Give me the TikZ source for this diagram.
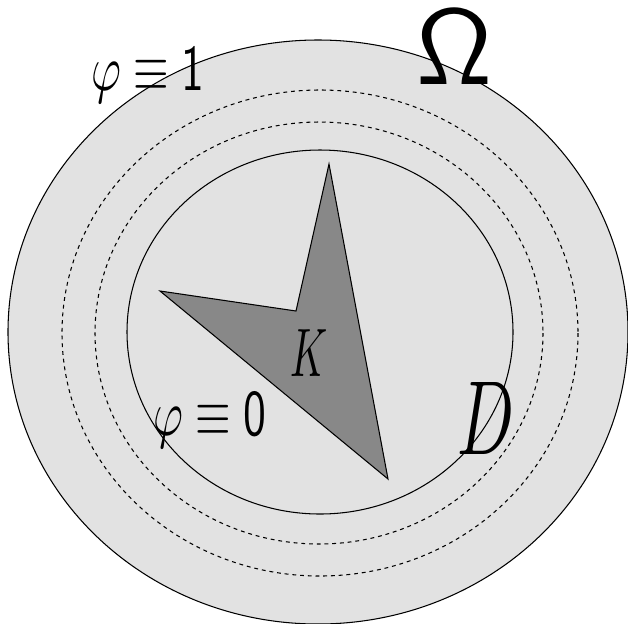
\documentclass[tikz,border=0pt]{standalone}
\definecolor{regiongray}{HTML}{E2E2E2}
\definecolor{kgray}{HTML}{888888}
\begin{document}
\begin{tikzpicture}[x=0.02cm,y=-0.02cm,
  curve/.style={line width=0.6pt},
  dashcurve/.style={line width=0.6pt,dash pattern=on 2.2pt off 2.2pt},
  lbl/.style={inner sep=0pt,anchor=base}]
\useasboundingbox (0,0) rectangle (628,623);
\fill[regiongray,draw=black,curve] (318,332) ellipse [x radius=310, y radius=292];
\draw[dashcurve] (320,333) ellipse [x radius=258, y radius=243];
\draw[dashcurve] (319,333) ellipse [x radius=224, y radius=211];
\draw[curve] (320,332) ellipse [x radius=193, y radius=182];
\coordinate (k1) at (160,291);
\coordinate (k2) at (296,311);
\coordinate (k3) at (329,164);
\coordinate (k4) at (388,479);
\fill[kgray,draw=black,curve] (k1) -- (k2) -- (k3) -- (k4) -- cycle;
\node[lbl] (phi1) at (148,90) {\scalebox{2.6}[3.7]{$\varphi\equiv\mathsf{1}$}};
\node[lbl] (phi0) at (210,435) {\scalebox{2.6}[3.7]{$\varphi\equiv\mathsf{0}$}};
\node[lbl] (omega) at (455,84) {\scalebox{6.0}[6.1]{$\mathsf{\Omega}$}};
\node[lbl] (dlab) at (486,454) {\scalebox{3.8}[6.0]{$D$}};
\node[lbl] (klab) at (309,376) {\scalebox{2.3}[3.9]{$K$}};
\end{tikzpicture}
\end{document}
